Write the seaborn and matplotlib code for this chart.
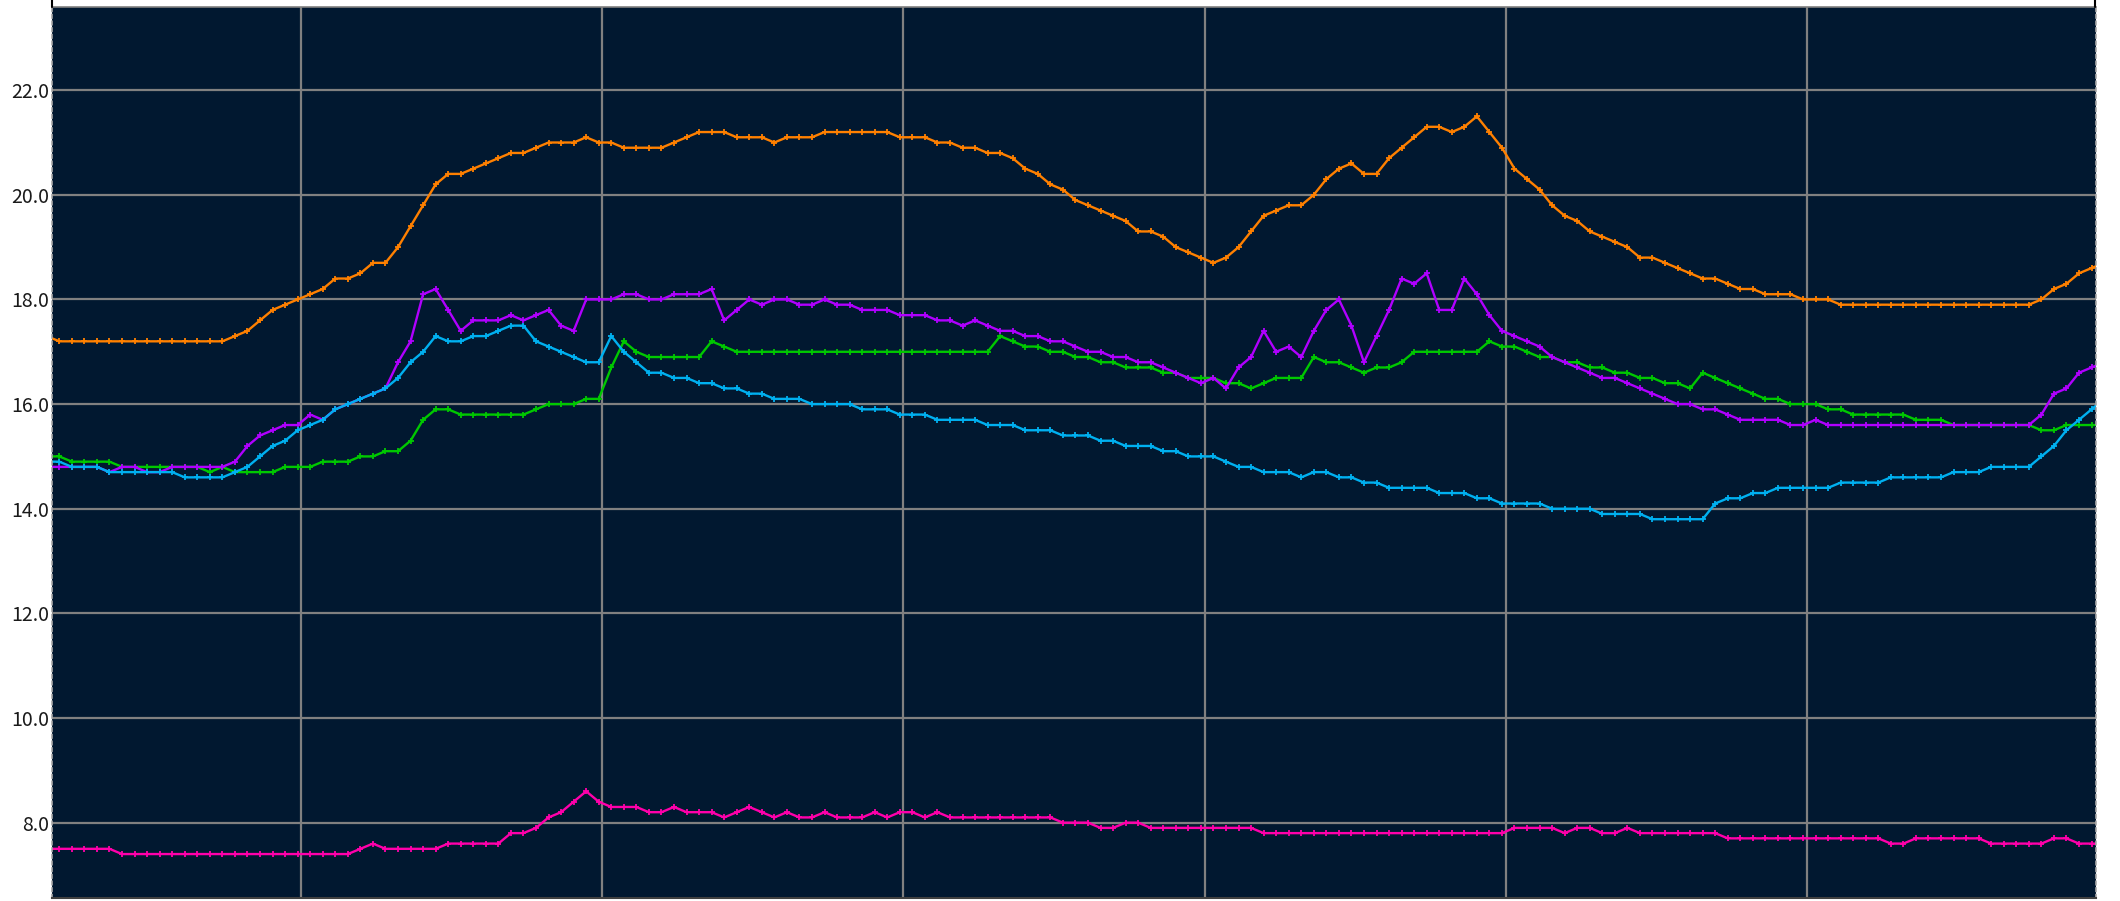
import numpy as np
import pandas as pd
import matplotlib
matplotlib.use("Agg")
import matplotlib.pyplot as plt
import seaborn as sns
from matplotlib.lines import Line2D

# ---------------- data (index -1 .. 163, one value per sample) ----------------
idx = list(range(-1, 164))

orange = ([17.3] + [17.2] * 14 +
          [17.3, 17.4, 17.6, 17.8, 17.9, 18.0, 18.1, 18.2, 18.4, 18.4, 18.5, 18.7, 18.7, 19.0] +
          [19.4, 19.8, 20.2, 20.4, 20.4, 20.5, 20.6, 20.7, 20.8, 20.8, 20.9, 21.0, 21.0, 21.0,
           21.1, 21.0, 21.0, 20.9, 20.9, 20.9, 20.9, 21.0, 21.1, 21.2, 21.2, 21.2, 21.1] +
          [21.1, 21.1, 21.0, 21.1, 21.1, 21.1, 21.2, 21.2, 21.2, 21.2, 21.2, 21.2, 21.1, 21.1,
           21.1, 21.0, 21.0, 20.9, 20.9, 20.8, 20.8, 20.7, 20.5, 20.4, 20.2, 20.1, 19.9] +
          [19.8, 19.7, 19.6, 19.5, 19.3, 19.3, 19.2, 19.0, 18.9, 18.8, 18.7, 18.8, 19.0, 19.3,
           19.6, 19.7, 19.8, 19.8, 20.0, 20.3, 20.5, 20.6, 20.4, 20.4, 20.7, 20.9, 21.1] +
          [21.3, 21.3, 21.2, 21.3, 21.5, 21.2, 20.9, 20.5, 20.3, 20.1, 19.8, 19.6, 19.5, 19.3,
           19.2, 19.1, 19.0, 18.8, 18.8, 18.7, 18.6, 18.5, 18.4, 18.4, 18.3, 18.2, 18.2] +
          [18.1, 18.1, 18.1, 18.0, 18.0, 18.0] + [17.9] * 16 +
          [18.0, 18.2, 18.3, 18.5, 18.6, 18.7])

purple = ([14.8] +
          [14.8, 14.8, 14.8, 14.8, 14.7, 14.8, 14.8, 14.7, 14.7, 14.8, 14.8, 14.8, 14.8, 14.8,
           14.9, 15.2, 15.4, 15.5, 15.6, 15.6, 15.8, 15.7, 15.9, 16.0, 16.1, 16.2, 16.3, 16.8] +
          [17.2, 18.1, 18.2, 17.8, 17.4, 17.6, 17.6, 17.6, 17.7, 17.6, 17.7, 17.8, 17.5, 17.4,
           18.0, 18.0, 18.0, 18.1, 18.1, 18.0, 18.0, 18.1, 18.1, 18.1, 18.2, 17.6, 17.8] +
          [18.0, 17.9, 18.0, 18.0, 17.9, 17.9, 18.0, 17.9, 17.9, 17.8, 17.8, 17.8, 17.7, 17.7,
           17.7, 17.6, 17.6, 17.5, 17.6, 17.5, 17.4, 17.4, 17.3, 17.3, 17.2, 17.2, 17.1] +
          [17.0, 17.0, 16.9, 16.9, 16.8, 16.8, 16.7, 16.6, 16.5, 16.4, 16.5, 16.3, 16.7, 16.9,
           17.4, 17.0, 17.1, 16.9, 17.4, 17.8, 18.0, 17.5, 16.8, 17.3, 17.8, 18.4, 18.3] +
          [18.5, 17.8, 17.8, 18.4, 18.1, 17.7, 17.4, 17.3, 17.2, 17.1, 16.9, 16.8, 16.7, 16.6,
           16.5, 16.5, 16.4, 16.3, 16.2, 16.1, 16.0, 16.0, 15.9, 15.9, 15.8, 15.7, 15.7] +
          [15.7, 15.7, 15.6, 15.6, 15.7, 15.6] + [15.6] * 16 +
          [15.8, 16.2, 16.3, 16.6, 16.7, 16.8])

green = ([15.0] +
         [15.0, 14.9, 14.9, 14.9, 14.9, 14.8, 14.8, 14.8, 14.8, 14.8, 14.8, 14.8, 14.7, 14.8,
          14.7, 14.7, 14.7, 14.7, 14.8, 14.8, 14.8, 14.9, 14.9, 14.9, 15.0, 15.0, 15.1, 15.1] +
         [15.3, 15.7, 15.9, 15.9, 15.8, 15.8, 15.8, 15.8, 15.8, 15.8, 15.9, 16.0, 16.0, 16.0,
          16.1, 16.1, 16.7, 17.2, 17.0, 16.9, 16.9, 16.9, 16.9, 16.9, 17.2, 17.1, 17.0] +
         [17.0] * 20 + [17.3, 17.2, 17.1, 17.1, 17.0, 17.0, 16.9] +
         [16.9, 16.8, 16.8, 16.7, 16.7, 16.7, 16.6, 16.6, 16.5, 16.5, 16.5, 16.4, 16.4, 16.3,
          16.4, 16.5, 16.5, 16.5, 16.9, 16.8, 16.8, 16.7, 16.6, 16.7, 16.7, 16.8, 17.0] +
         [17.0, 17.0, 17.0, 17.0, 17.0, 17.2, 17.1, 17.1, 17.0, 16.9, 16.9, 16.8, 16.8, 16.7,
          16.7, 16.6, 16.6, 16.5, 16.5, 16.4, 16.4, 16.3, 16.6, 16.5, 16.4, 16.3, 16.2] +
         [16.1, 16.1, 16.0, 16.0, 16.0, 15.9, 15.9, 15.8, 15.8, 15.8, 15.8, 15.8, 15.7, 15.7,
          15.7, 15.6, 15.6, 15.6, 15.6, 15.6, 15.6, 15.6, 15.5, 15.5, 15.6, 15.6, 15.6, 15.6])

cyan = ([14.9] +
        [14.9, 14.8, 14.8, 14.8, 14.7, 14.7, 14.7, 14.7, 14.7, 14.7, 14.6, 14.6, 14.6, 14.6,
         14.7, 14.8, 15.0, 15.2, 15.3, 15.5, 15.6, 15.7, 15.9, 16.0, 16.1, 16.2, 16.3, 16.5] +
        [16.8, 17.0, 17.3, 17.2, 17.2, 17.3, 17.3, 17.4, 17.5, 17.5, 17.2, 17.1, 17.0, 16.9,
         16.8, 16.8, 17.3, 17.0, 16.8, 16.6, 16.6, 16.5, 16.5, 16.4, 16.4, 16.3, 16.3] +
        [16.2, 16.2, 16.1, 16.1, 16.1, 16.0, 16.0, 16.0, 16.0, 15.9, 15.9, 15.9, 15.8, 15.8,
         15.8, 15.7, 15.7, 15.7, 15.7, 15.6, 15.6, 15.6, 15.5, 15.5, 15.5, 15.4, 15.4] +
        [15.4, 15.3, 15.3, 15.2, 15.2, 15.2, 15.1, 15.1, 15.0, 15.0, 15.0, 14.9, 14.8, 14.8,
         14.7, 14.7, 14.7, 14.6, 14.7, 14.7, 14.6, 14.6, 14.5, 14.5, 14.4, 14.4, 14.4] +
        [14.4, 14.3, 14.3, 14.3, 14.2, 14.2, 14.1, 14.1, 14.1, 14.1, 14.0, 14.0, 14.0, 14.0,
         13.9, 13.9, 13.9, 13.9, 13.8, 13.8, 13.8, 13.8, 13.8, 14.1, 14.2, 14.2, 14.3] +
        [14.3, 14.4, 14.4, 14.4, 14.4, 14.4, 14.5, 14.5, 14.5, 14.5, 14.6, 14.6, 14.6, 14.6,
         14.6, 14.7, 14.7, 14.7, 14.8, 14.8, 14.8, 14.8, 15.0, 15.2, 15.5, 15.7, 15.9, 16.1])

pink = ([7.5] + [7.5] * 5 + [7.4] * 19 +
        [7.5, 7.6] + [7.5] * 5 + [7.6] * 5 +
        [7.8, 7.8, 7.9, 8.1, 8.2, 8.4, 8.6, 8.4] + [8.3] * 3 +
        [8.2, 8.2, 8.3, 8.2, 8.2, 8.2] +
        [8.1, 8.2, 8.3, 8.2, 8.1, 8.2, 8.1, 8.1, 8.2, 8.1, 8.1, 8.1, 8.2, 8.1, 8.2, 8.2, 8.1, 8.2] +
        [8.1] * 9 + [8.0] * 3 + [7.9, 7.9, 8.0, 8.0] + [7.9] * 9 + [7.8] * 20 +
        [7.9, 7.9, 7.9, 7.9, 7.8, 7.9, 7.9, 7.8, 7.8, 7.9] + [7.8] * 7 +
        [7.7] * 13 + [7.6] * 2 + [7.7] * 6 + [7.6] * 5 + [7.7] * 2 + [7.6] * 3)

series_names = ["green", "purple", "cyan", "orange", "pink"]
series_values = [green, purple, cyan, orange, pink]
series_colors = ["#00C800", "#B000FF", "#00B0F0", "#FF8000", "#FF00AA"]

y_ticks = [8, 10, 12, 14, 16, 18, 20, 22]
y_tick_labels = ["8.0", "10.0", "12.0", "14.0", "16.0", "18.0", "20.0", "22.0"]
x_grid = [19.29 + 24 * k for k in range(6)]

# ---------------- figure ----------------
sns.set_style("dark")
plt.rcParams["font.family"] = ["Noto Sans CJK JP", "DejaVu Sans"]

W, H = 2120, 901
fig = plt.figure(figsize=(W / 100, H / 100), dpi=100, facecolor="white")
ax = fig.add_axes([52.3 / W, 3 / H, (2095.7 - 52.3) / W, (898 - 7) / H])
ax.set_facecolor("#011830")

for name, vals, col in zip(series_names, series_values, series_colors):
    df = pd.DataFrame({"idx": idx, "value": vals})
    sns.lineplot(data=df, x="idx", y="value", ax=ax, color=col, linewidth=1.7,
                 marker="+", markersize=5, markeredgewidth=1.3, markeredgecolor=col,
                 legend=False, errorbar=None)

ax.set_xlim(-0.558, 162.33)
ax.set_ylim(6.56, 23.59)
ax.set_xticks(x_grid)
ax.set_xticklabels([])
ax.set_yticks(y_ticks)
ax.set_yticklabels(y_tick_labels)
ax.set_xlabel("")
ax.set_ylabel("")
ax.tick_params(axis="both", length=0)
ax.tick_params(axis="y", pad=2, labelsize=14, labelcolor="#1a1a1a")
ax.grid(True, color="#808080", linewidth=1.6)
ax.set_axisbelow(True)

ax.spines["top"].set_color("#808080")
ax.spines["top"].set_linewidth(1.2)
for s in ("left", "right"):
    ax.spines[s].set_color("#a8a8a8")
    ax.spines[s].set_linestyle((0, (2, 2)))
    ax.spines[s].set_linewidth(1.2)
ax.spines["bottom"].set_color("#404040")
ax.spines["bottom"].set_linewidth(1.5)

for xp in (52.3 / W, 2095.0 / W):
    fig.add_artist(Line2D([xp, xp], [1 - 7 / H, 1.0], color="black", linewidth=1.5,
                          transform=fig.transFigure))

fig.savefig("out.png", dpi=100, facecolor="white")
